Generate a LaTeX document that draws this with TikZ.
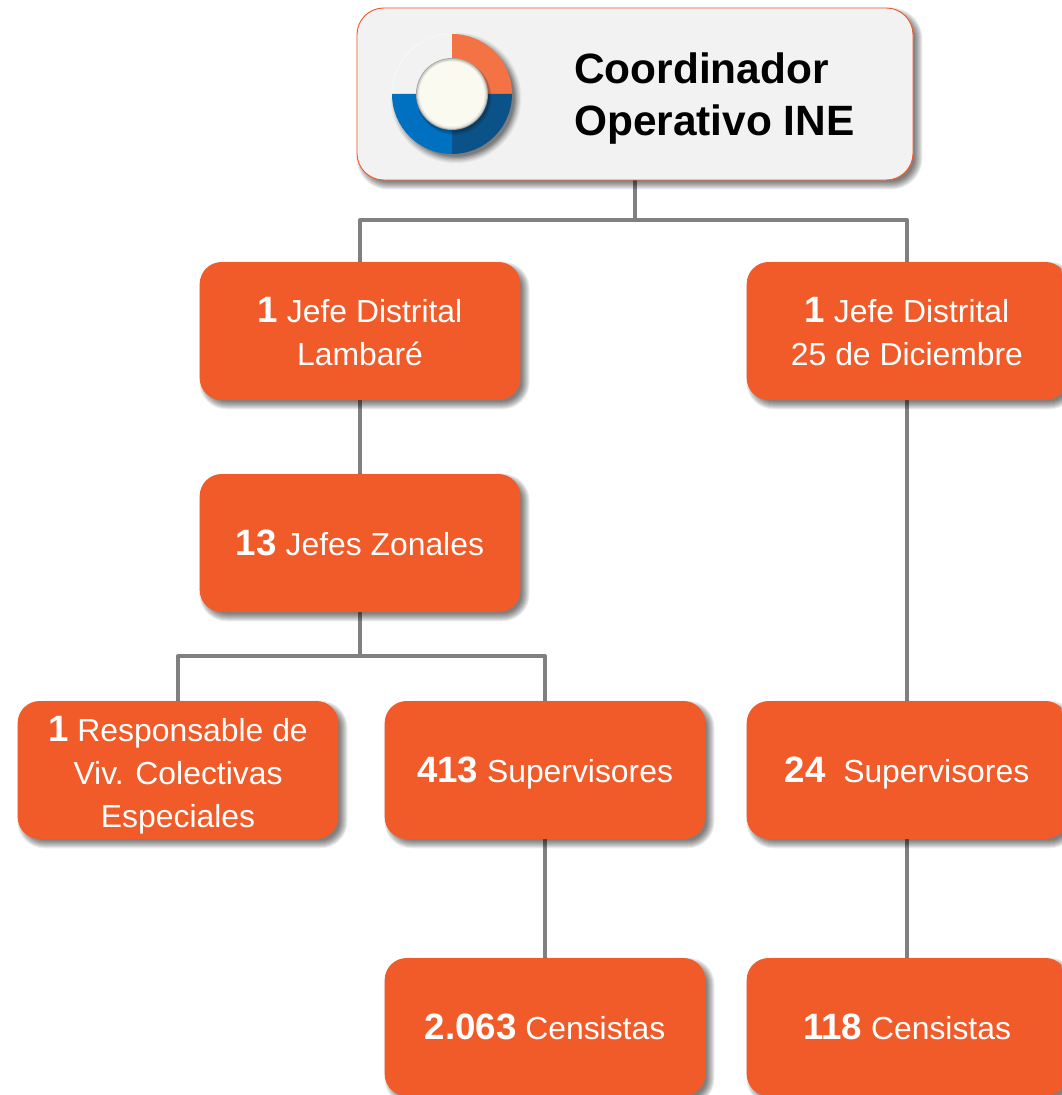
\documentclass[tikz,border=0pt]{standalone}
\usepackage{fontspec}
\setmainfont{Liberation Sans}
\usetikzlibrary{calc,backgrounds}
\definecolor{boxorange}{HTML}{F15A29}
\definecolor{linegray}{HTML}{808080}
\definecolor{topfill}{HTML}{F2F2F2}
\definecolor{wedgeorange}{HTML}{F47345}
\definecolor{wedgedark}{HTML}{0B5288}
\definecolor{wedgeblue}{HTML}{0070C0}
\definecolor{cream}{HTML}{FBFAF0}
\tikzset{
  orangebox/.style={fill=boxorange,rounded corners=16.5pt,text=white,
    minimum height=103.5pt,inner sep=0pt,align=center,font=\fontsize{23.9}{32.2}\selectfont},
  wbox/.style={orangebox,minimum width=240.5pt},
  topbox/.style={fill=topfill,draw=boxorange,line width=.7pt,rounded corners=20pt,
    minimum width=417pt,minimum height=129pt,inner sep=0pt},
  toplabel/.style={anchor=west,align=left,inner sep=0pt,text=black,
    font=\bfseries\fontsize{31.8}{39}\selectfont},
  link/.style={draw=linegray,line width=3pt,line join=round},
}
\newcommand{\num}[1]{{\bfseries\fontsize{27.5}{32.2}\selectfont #1}}
\newcommand{\lift}[1]{\rule{0pt}{\dimexpr 19.8pt+#1*2\relax}}
% soft shadow behind a named box: #1 node, #2 corner radius in pt
\newcommand{\softshadow}[2]{%
  \foreach \e in {5,4,...,-3}{%
    \pgfmathsetmacro{\rr}{max(#2+0.75*\e,1)}%
    \fill[black,opacity=.075,rounded corners=\rr pt]
      ($(#1.north west)+(5-\e,5-\e)$) rectangle ($(#1.south east)+(4+\e,4+\e)$);
  }}
\begin{document}
\begin{tikzpicture}[x=0.75pt,y=-0.75pt]
\useasboundingbox (0,0) rectangle (1061,1095);
\clip (0,0) rectangle (1061,1095);
\node[topbox] (top) at (635,94) {};
\node[toplabel] (toptext) at (574,99) {Coordinador\\Operativo INE};
\node[wbox] (jl) at (360,331) {\lift{.1pt}\num{1} Jefe Distrital\\Lambaré};
\node[wbox] (jd) at (907,331) {\lift{.1pt}\num{1} Jefe Distrital\\25 de Diciembre};
\node[wbox] (jz) at (360,543) {\num{13} Jefes Zonales};
\node[wbox] (re) at (178,770) {\lift{3.75pt}\num{1} Responsable de\\Viv. Colectivas\\Especiales};
\node[wbox] (s4) at (545,770) {\lift{2.25pt}\num{413} Supervisores};
\node[wbox] (s2) at (907,770) {\lift{2.25pt}\num{24}\ \ Supervisores};
\node[wbox] (c2) at (545,1027) {\num{2.063} Censistas};
\node[wbox] (c1) at (907,1027) {\num{118} Censistas};
\coordinate (bus1) at (635,220);
\coordinate (bus2) at (360,656);
\begin{scope}[on background layer]
  \draw[link] (top.south) -- (bus1);
  \draw[link] (jl.north) |- (bus1);
  \draw[link] (jd.north) |- (bus1);
  \draw[link] (jl.south) -- (jz.north);
  \draw[link] (jd.south) -- (s2.north);
  \draw[link] (jz.south) -- (bus2);
  \draw[link] (re.north) |- (bus2);
  \draw[link] (s4.north) |- (bus2);
  \draw[link] (s4.south) -- (c2.north);
  \draw[link] (s2.south) -- (c1.north);
  \softshadow{top}{20}
  \softshadow{jl}{16.5}
  \softshadow{jd}{16.5}
  \softshadow{jz}{16.5}
  \softshadow{re}{16.5}
  \softshadow{s4}{16.5}
  \softshadow{s2}{16.5}
  \softshadow{c2}{16.5}
  \softshadow{c1}{16.5}
\end{scope}
% donut emblem
\begin{scope}[shift={(452,94)},y=0.75pt]
  \foreach \r/\o in {49/.05,48/.07,47/.09,46/.11,45/.13,44/.15}{
    \fill[black,opacity=\o] (3pt,-3pt) circle[radius=\r pt];
  }
  \fill[topfill] (0,0) -- (90:53pt) arc[start angle=90,end angle=180,radius=53pt] -- cycle;
  \fill[topfill] (-53pt,-3pt) rectangle (0,0);
  \fill[topfill] (0,0) rectangle (3pt,53pt);
  \draw[white!70!topfill,line width=.4pt] (90:45pt) arc[start angle=90,end angle=180,radius=45pt];
  \fill[wedgeorange] (0,0) -- (0:45pt) arc[start angle=0,end angle=90,radius=45pt] -- cycle;
  \fill[wedgedark] (0,0) -- (270:45pt) arc[start angle=270,end angle=360,radius=45pt] -- cycle;
  \fill[wedgeblue] (0,0) -- (180:45pt) arc[start angle=180,end angle=270,radius=45pt] -- cycle;
  \fill[black,opacity=.12] (1.5pt,-2.5pt) circle[radius=28pt];
  \fill[black,opacity=.15] (1pt,-1.5pt) circle[radius=27.5pt];
  \fill[gray!70] (0,0) circle[radius=27pt];
  \fill[gray!35!cream] (0,0) circle[radius=26.3pt];
  \fill[gray!15!cream] (0,-.3pt) circle[radius=25.5pt];
  \fill[cream] (0,0) circle[radius=24.5pt];
\end{scope}
\end{tikzpicture}
\end{document}
